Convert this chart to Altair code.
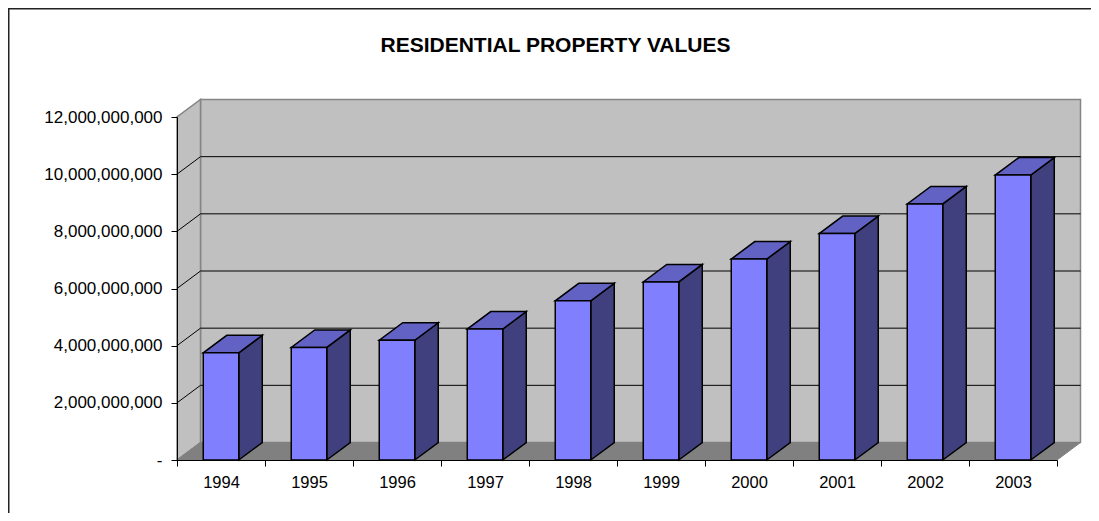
import altair as alt
import pandas as pd

# ---- data ----
years = ["1994", "1995", "1996", "1997", "1998", "1999", "2000", "2001", "2002", "2003"]
values = [3.75e9, 3.94e9, 4.19e9, 4.58e9, 5.57e9, 6.23e9, 7.03e9, 7.92e9, 8.96e9, 9.97e9]
y_ticks = [0, 2e9, 4e9, 6e9, 8e9, 10e9, 12e9]
title_text = "RESIDENTIAL PROPERTY VALUES"

# ---- layout (pixels) ----
W_PX, H_PX = 880, 343
N = len(years)
Y_MAX = 12e9
PX_PER_X = W_PX / N
PX_PER_Y = H_PX / Y_MAX
DEPTH_X_PX, DEPTH_Y_PX = 23.5, 17.5
BAR_PX = 35.5
DX = DEPTH_X_PX / PX_PER_X          # depth offset in category units
DY = DEPTH_Y_PX / PX_PER_Y          # depth offset in value units
BW = BAR_PX / PX_PER_X              # bar width in category units

FONT = "Liberation Sans"
C_FRONT, C_TOP, C_SIDE = "#8080FF", "#6262C4", "#40407F"
C_WALL, C_FLOOR, C_EDGE = "#C0C0C0", "#808080", "#858585"

xs = alt.Scale(domain=[0, N], nice=False, zero=False)
ys = alt.Scale(domain=[0, Y_MAX], nice=False)

# ---- build tables from the arrays ----
wall = pd.DataFrame({"x": [DX], "x2": [N + DX], "y": [DY], "y2": [Y_MAX + DY]})
side_wall = pd.DataFrame({"x": [0, DX], "y": [0, DY], "y2": [Y_MAX, Y_MAX + DY]})
floor = pd.DataFrame({"x": [0, DX, N, N + DX], "y": [0, 0, 0, DY], "y2": [0, DY, DY, DY]})

grid_rows = []
for g in y_ticks[1:-1]:
    grid_rows.append({"x": DX, "x2": N + DX, "y": g + DY, "y2": g + DY})
    grid_rows.append({"x": 0, "x2": DX, "y": g, "y2": g + DY})
grid = pd.DataFrame(grid_rows)

front_rows, face_rows = [], []
for i, (yr, v) in enumerate(zip(years, values)):
    x0 = i + 0.5 - BW / 2
    x1 = i + 0.5 + BW / 2
    front_rows.append({"year": yr, "x": x0, "x2": x1, "y": 0, "y2": v})
    face_rows += [
        {"id": f"s{i}", "face": "side", "x": x1, "y": 0, "y2": v},
        {"id": f"s{i}", "face": "side", "x": x1 + DX, "y": DY, "y2": v + DY},
    ]
    face_rows += [
        {"id": f"t{i}", "face": "top", "x": x0, "y": v, "y2": v},
        {"id": f"t{i}", "face": "top", "x": x0 + DX, "y": v, "y2": v + DY},
        {"id": f"t{i}", "face": "top", "x": x1, "y": v, "y2": v + DY},
        {"id": f"t{i}", "face": "top", "x": x1 + DX, "y": v + DY, "y2": v + DY},
    ]
front = pd.DataFrame(front_rows)
faces = pd.DataFrame(face_rows)

year_expr = "[" + ",".join(f"'{y}'" for y in years) + "]"

x_axis = alt.Axis(
    values=list(range(N + 1)), title=None, grid=False,
    labelExpr=f"datum.value < {N} ? {year_expr}[datum.value] : ''",
    labelOffset=PX_PER_X / 2, labelFlush=False, labelOverlap=False,
    tickSize=6, tickColor="black", domainColor="black", tickWidth=1, domainWidth=1,
    labelFont=FONT, labelFontSize=16.5, labelColor="black", labelPadding=8, zindex=2,
)
y_axis = alt.Axis(
    values=y_ticks, title=None, grid=False,
    labelExpr="datum.value == 0 ? '-' : format(datum.value, ',')",
    tickSize=6, tickColor="black", domainColor="black", tickWidth=1, domainWidth=1,
    labelFont=FONT, labelFontSize=17, labelColor="black", labelPadding=9, zindex=2,
)

base_x = alt.X("x:Q", scale=xs, axis=x_axis)
base_y = alt.Y("y:Q", scale=ys, axis=y_axis)
area_y = alt.Y("y:Q", scale=ys, axis=y_axis, stack=False)

one = pd.DataFrame({"k": [0]})
frame_top = alt.Chart(one).mark_rule(color="#222222", strokeWidth=2).encode(
    x=alt.value(-169), x2=alt.value(W_PX + 80), y=alt.value(-108.5)
)
frame_left = alt.Chart(one).mark_rule(color="#222222", strokeWidth=2).encode(
    x=alt.value(-168.5), y=alt.value(-109), y2=alt.value(H_PX + 80)
)
title_l = alt.Chart(pd.DataFrame({"t": [title_text]})).mark_text(
    font=FONT, fontSize=21, fontWeight="bold", color="black", align="center", baseline="alphabetic"
).encode(text="t:N", x=alt.value(378.5), y=alt.value(-65))

wall_l = alt.Chart(wall).mark_rect(fill=C_WALL, stroke=C_EDGE, strokeWidth=1.5).encode(
    x=base_x, x2="x2:Q", y=base_y, y2="y2:Q"
)
side_l = alt.Chart(side_wall).mark_area(fill=C_WALL, stroke=C_EDGE, strokeWidth=1.5, interpolate="linear").encode(
    x=base_x, y=area_y, y2="y2:Q"
)
floor_l = alt.Chart(floor).mark_area(fill=C_FLOOR, stroke=C_FLOOR, strokeWidth=1, interpolate="linear").encode(
    x=base_x, y=area_y, y2="y2:Q"
)
grid_l = alt.Chart(grid).mark_rule(color="black", strokeWidth=1).encode(
    x=base_x, x2="x2:Q", y=base_y, y2="y2:Q"
)
faces_l = alt.Chart(faces).mark_area(stroke="black", strokeWidth=1.5, interpolate="linear", opacity=1).encode(
    x=base_x, y=area_y, y2="y2:Q",
    detail="id:N",
    fill=alt.Fill("face:N", scale=alt.Scale(domain=["side", "top"], range=[C_SIDE, C_TOP]), legend=None),
)
front_l = alt.Chart(front).mark_rect(fill=C_FRONT, stroke="black", strokeWidth=1.5).encode(
    x=base_x, x2="x2:Q", y=base_y, y2="y2:Q"
)

chart = alt.layer(
    frame_top, frame_left, title_l, wall_l, side_l, floor_l, grid_l, faces_l, front_l
).properties(
    width=W_PX, height=H_PX,
    padding={"left": 169, "top": 109, "right": 34, "bottom": 53},
    autosize=alt.AutoSizeParams(type="none"),
).configure_view(stroke=None).configure(background="white")

chart.save("out.html", embed_options={"renderer": "svg", "actions": False})
